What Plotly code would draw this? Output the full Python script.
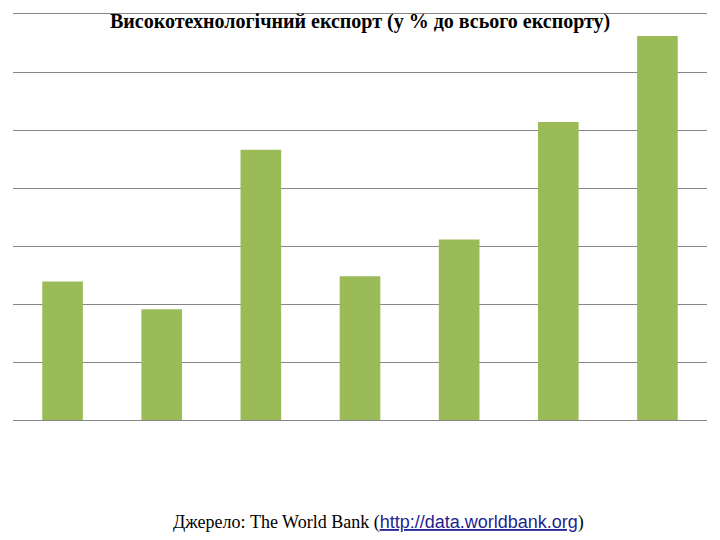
import plotly.graph_objects as go

categories = ["2007", "2008", "2009", "2010", "2011", "2012", "2013"]
values = [2.39, 1.91, 4.66, 2.48, 3.11, 5.14, 6.62]

title_text = "Високотехнологічний експорт (у % до всього експорту)"
source_prefix = "Джерело: The World Bank ("
source_link = "http://data.worldbank.org"
source_suffix = ")"

# page body adds an 8px offset; compensate in margins
OFF = 8
top_px, bottom_px, left_px, right_px = 14, 420, 13, 707
W, H = 720, 540

fig = go.Figure()
fig.add_trace(go.Bar(
    x=categories, y=values,
    marker=dict(color="#9BBB59", line=dict(width=0)),
    width=0.41,
))

plot_h = bottom_px - top_px
fig.update_layout(
    width=W, height=H,
    margin=dict(l=left_px - OFF, r=W - right_px + OFF, t=top_px - OFF,
                b=H - bottom_px + OFF),
    paper_bgcolor="white", plot_bgcolor="white",
    showlegend=False,
    xaxis=dict(showticklabels=False, showgrid=False, zeroline=False,
               showline=True, mirror=True, linecolor="#868686", linewidth=1, ticks=""),
    yaxis=dict(range=[0, 7], dtick=1, showticklabels=False,
               showgrid=True, gridcolor="#868686", gridwidth=1,
               zeroline=False, showline=False, ticks=""),
    annotations=[
        dict(text="<b>" + title_text + "</b>", x=0.5, y=1 - (22 - top_px) / plot_h,
             xref="paper", yref="paper", yanchor="middle", showarrow=False,
             font=dict(family="Liberation Serif", size=20, color="black")),
        dict(
            text=source_prefix
            + "<span style='font-family:Liberation Sans;color:#1F1F8F;text-decoration:underline'>"
            + source_link + "</span>" + source_suffix,
            x=(378 - left_px) / (right_px - left_px), y=-(522 - bottom_px) / plot_h,
            xref="paper", yref="paper", yanchor="middle", showarrow=False,
            font=dict(family="Liberation Serif", size=18, color="black"),
        ),
    ],
)

fig.write_html("out.html")
